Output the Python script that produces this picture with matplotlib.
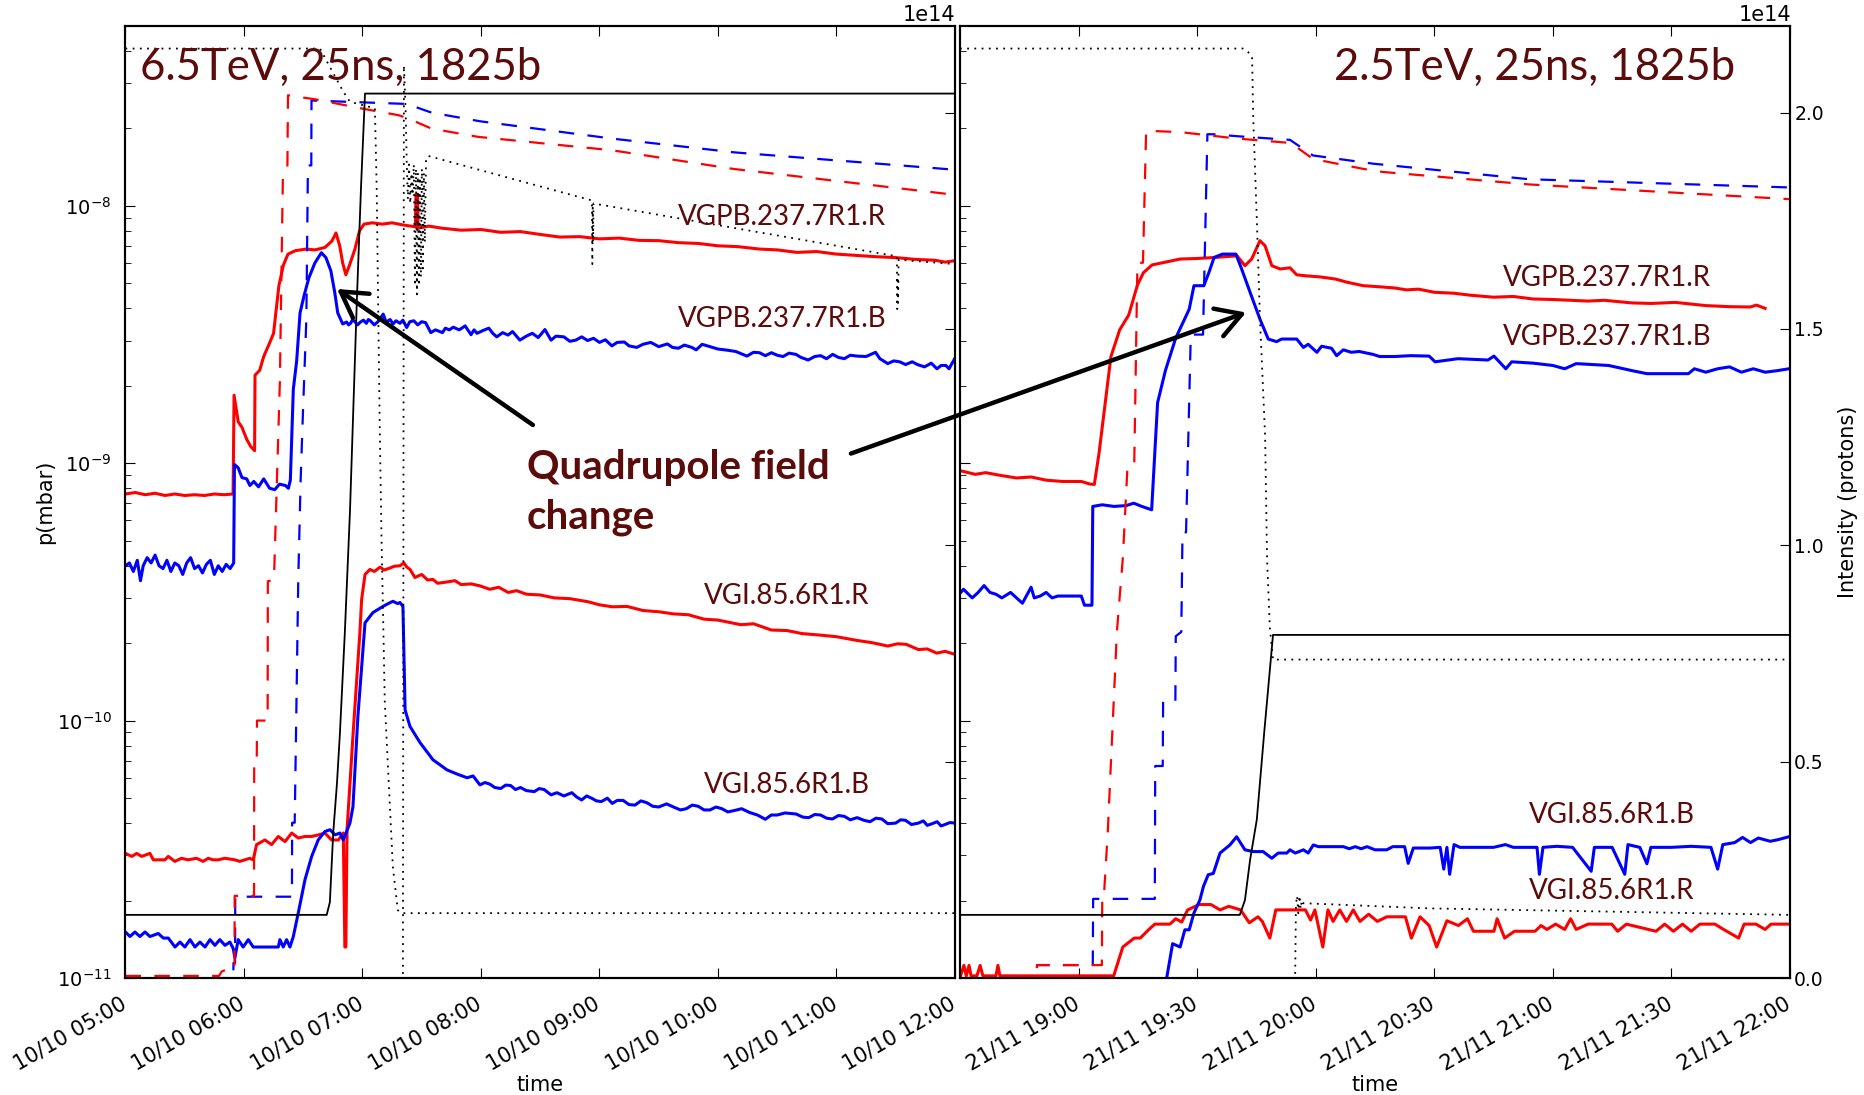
import numpy as np
import pandas as pd
import matplotlib
matplotlib.use("Agg")
import matplotlib.pyplot as plt
import matplotlib.dates as mdates
from matplotlib.patches import FancyArrowPatch
from matplotlib.ticker import FormatStrFormatter
from matplotlib.transforms import ScaledTranslation

# two fills: times are minutes after the start of each window
oct_start = pd.Timestamp("2015-10-10 05:00")
oct_end = pd.Timestamp("2015-10-10 12:00")
nov_start = pd.Timestamp("2015-11-21 18:30")
nov_end = pd.Timestamp("2015-11-21 22:00")

# ---------------- 6.5 TeV fill (10/10) ----------------
# pressures in mbar
vgpb_r_oct = [(0, 7.6e-10), (5, 7.7e-10), (10, 7.55e-10), (15, 7.65e-10), (20, 7.5e-10), (25, 7.6e-10),
              (30, 7.5e-10), (35, 7.55e-10), (40, 7.5e-10), (45, 7.6e-10), (50, 7.55e-10), (54.5, 7.6e-10),
              (55.0, 1.84e-9), (57.1, 1.45e-9), (59.0, 1.38e-9), (61.4, 1.24e-9), (63.5, 1.16e-9), (65.4, 1.12e-9),
              (65.6, 2.2e-9), (68, 2.3e-9), (70, 2.6e-9), (72.7, 2.9e-9), (75, 3.2e-9), (77.7, 4.9e-9),
              (80, 5.9e-9), (82.3, 6.5e-9), (86, 6.7e-9), (91.4, 6.8e-9), (96, 6.75e-9), (101, 6.9e-9),
              (104.5, 7.3e-9), (106.6, 7.85e-9), (108.5, 7.0e-9), (110, 6.0e-9), (111.6, 5.4e-9), (113.5, 5.9e-9),
              (116.2, 6.8e-9), (118.5, 8.0e-9), (120.8, 8.5e-9), (125, 8.6e-9), (130, 8.5e-9), (135, 8.6e-9),
              (140, 8.45e-9), (146.8, 8.3e-9), (147.1, 1.11e-8), (147.9, 1.11e-8), (148.2, 8.2e-9),
              (153.7, 8.35e-9), (160, 8.2e-9), (170, 8.05e-9), (180, 8.1e-9), (190, 7.9e-9), (200, 7.95e-9),
              (210, 7.75e-9), (220, 7.57e-9), (230, 7.6e-9), (240, 7.45e-9), (250, 7.5e-9), (260, 7.35e-9),
              (270, 7.33e-9), (280, 7.2e-9), (290, 7.15e-9), (300, 7.0e-9), (310, 6.95e-9), (321, 6.8e-9),
              (330, 6.75e-9), (340, 6.6e-9), (350, 6.65e-9), (360, 6.5e-9), (372, 6.41e-9), (380, 6.35e-9),
              (390, 6.3e-9), (400, 6.2e-9), (410, 6.15e-9), (415, 6.05e-9), (420, 6.13e-9)]

vgpb_b_oct = [(0, 4.0e-10), (2, 4.1e-10), (4, 3.8e-10), (6, 4.2e-10), (7.6, 3.5e-10), (9, 4.0e-10),
              (11, 4.3e-10), (13, 4.1e-10), (15, 4.4e-10), (17, 4.0e-10), (19, 3.9e-10), (21, 4.2e-10),
              (23, 3.8e-10), (25, 4.1e-10), (27, 4.0e-10), (29, 3.7e-10), (31, 4.1e-10), (33, 4.3e-10),
              (35, 3.9e-10), (37, 4.0e-10), (39, 3.75e-10), (41, 4.05e-10), (43, 4.2e-10), (45, 3.7e-10),
              (47, 4.0e-10), (49, 3.8e-10), (51, 4.05e-10), (53, 3.9e-10), (54.8, 4.1e-10),
              (55.2, 9.9e-10), (57.1, 9.6e-10), (59, 8.8e-10), (61.4, 8.7e-10), (63, 8.2e-10), (65, 8.5e-10),
              (67.4, 8.1e-10), (70, 8.7e-10), (73, 8.0e-10), (75.6, 7.9e-10), (78, 8.3e-10), (81, 8.2e-10),
              (82.5, 8.0e-10), (83.5, 8.6e-10), (85.0, 1.94e-9), (86.7, 2.5e-9), (88.4, 3.84e-9), (90.5, 4.5e-9),
              (92.9, 5.26e-9), (95.9, 6.0e-9), (99.2, 6.58e-9), (101.5, 6.3e-9), (104, 5.6e-9), (106, 4.6e-9),
              (107.5, 3.84e-9), (110, 3.48e-9), (112, 3.54e-9), (113, 3.45e-9), (114, 3.5e-9), (115, 3.62e-9),
              (116, 3.56e-9), (117.5, 3.45e-9), (119, 3.54e-9), (120.5, 3.6e-9), (122, 3.5e-9), (123, 3.62e-9),
              (124, 3.58e-9), (126, 3.45e-9), (128, 3.56e-9), (130.5, 3.8e-9), (132, 3.54e-9), (134, 3.62e-9),
              (135.5, 3.48e-9), (137, 3.58e-9), (139, 3.5e-9), (140.5, 3.6e-9), (142.4, 3.37e-9), (144, 3.55e-9),
              (146, 3.58e-9), (148, 3.45e-9), (150, 3.55e-9), (152, 3.52e-9), (154.6, 3.22e-9), (157, 3.3e-9),
              (160.5, 3.22e-9), (162, 3.35e-9), (164, 3.3e-9), (166, 3.38e-9), (169, 3.3e-9), (172, 3.42e-9),
              (175, 3.16e-9), (176.5, 3.3e-9), (178, 3.2e-9), (181, 3.28e-9), (184, 3.35e-9), (186, 3.2e-9),
              (188, 3.1e-9), (191, 3.22e-9), (193.7, 3.15e-9), (196, 3.25e-9), (199.7, 3.01e-9), (203, 3.12e-9),
              (206, 3.2e-9), (209, 3.08e-9), (212.4, 3.31e-9), (215.5, 3.01e-9), (218, 3.12e-9), (222, 3.1e-9),
              (225, 2.98e-9), (228, 3.01e-9), (231, 3.1e-9), (234, 3.0e-9), (237, 3.06e-9), (240, 2.95e-9),
              (243, 3.02e-9), (246.3, 2.86e-9), (249, 2.95e-9), (252.6, 2.96e-9), (255, 2.86e-9), (258.9, 2.82e-9),
              (262, 2.9e-9), (266, 2.95e-9), (270, 2.84e-9), (274.4, 2.91e-9), (277, 2.82e-9), (280, 2.8e-9),
              (283, 2.88e-9), (286.8, 2.82e-9), (289, 2.76e-9), (292, 2.9e-9), (296, 2.84e-9), (300, 2.78e-9),
              (305, 2.75e-9), (309, 2.72e-9), (314.7, 2.61e-9), (318, 2.7e-9), (321, 2.69e-9), (324, 2.62e-9),
              (327.1, 2.69e-9), (330, 2.63e-9), (333, 2.6e-9), (336, 2.68e-9), (339.5, 2.65e-9), (342, 2.58e-9),
              (345.7, 2.52e-9), (349, 2.6e-9), (352, 2.62e-9), (355, 2.55e-9), (358.1, 2.65e-9), (361, 2.58e-9),
              (364, 2.55e-9), (367, 2.63e-9), (370.4, 2.61e-9), (375, 2.6e-9), (379.8, 2.7e-9), (382, 2.55e-9),
              (386, 2.44e-9), (389, 2.5e-9), (392, 2.48e-9), (395, 2.42e-9), (398.4, 2.48e-9), (401, 2.42e-9),
              (404.6, 2.37e-9), (408, 2.45e-9), (410.9, 2.33e-9), (413, 2.4e-9), (415.4, 2.4e-9),
              (417, 2.33e-9), (420, 2.56e-9)]

vgi_r_oct = [(0, 3.05e-11), (3.2, 2.97e-11), (5.7, 3.05e-11), (8.2, 2.97e-11), (12.4, 3.05e-11), (14.1, 2.88e-11),
             (16.6, 2.88e-11), (20, 2.88e-11), (21.7, 2.97e-11), (25, 2.84e-11), (28.4, 2.92e-11), (31.7, 2.88e-11),
             (36, 2.92e-11), (39.3, 2.84e-11), (41.9, 2.92e-11), (44.4, 2.88e-11), (46.9, 2.88e-11), (50.3, 2.92e-11),
             (55.4, 2.88e-11), (57.9, 2.84e-11), (63, 2.92e-11), (64.7, 2.88e-11), (66.4, 3.3e-11), (70.6, 3.44e-11),
             (74, 3.3e-11), (77.4, 3.55e-11), (80.8, 3.39e-11), (84.2, 3.66e-11), (87.5, 3.5e-11), (90.9, 3.55e-11),
             (94.3, 3.55e-11), (97.7, 3.6e-11), (101, 3.66e-11), (104.4, 3.44e-11), (107.8, 3.44e-11), (110.3, 3.66e-11),
             (111.1, 1.32e-11), (111.6, 1.32e-11), (112.2, 3.77e-11), (115.3, 8.98e-11), (118.7, 2.2e-10),
             (119.6, 2.96e-10), (121.3, 3.7e-10), (123.8, 3.87e-10), (126, 3.8e-10), (128.9, 3.95e-10), (131, 3.85e-10),
             (134, 3.92e-10), (136, 3.98e-10), (139, 4.0e-10), (141, 4.1e-10), (142.5, 3.95e-10), (144.1, 3.87e-10),
             (146.6, 3.6e-10), (150, 3.7e-10), (153, 3.52e-10), (155.7, 3.54e-10), (158, 3.42e-10), (161.8, 3.45e-10),
             (166.8, 3.5e-10), (170, 3.38e-10), (175.2, 3.40e-10), (179.5, 3.34e-10), (184.5, 3.24e-10), (189, 3.3e-10),
             (193.8, 3.15e-10), (198, 3.2e-10), (203.1, 3.10e-10), (210, 3.08e-10), (217.1, 3.0e-10), (225, 2.98e-10),
             (234.1, 2.9e-10), (240, 2.82e-10), (246.5, 2.77e-10), (254, 2.78e-10), (262, 2.68e-10), (270, 2.65e-10),
             (277.5, 2.6e-10), (285, 2.58e-10), (293, 2.48e-10), (300, 2.46e-10), (311.6, 2.36e-10), (318, 2.38e-10),
             (327.1, 2.25e-10), (335, 2.24e-10), (342.6, 2.18e-10), (351.9, 2.15e-10), (360, 2.12e-10), (370.5, 2.05e-10),
             (378, 2.01e-10), (386, 1.95e-10), (391, 1.99e-10), (395.3, 1.98e-10), (401.5, 1.89e-10), (406, 1.9e-10),
             (410.8, 1.83e-10), (415, 1.86e-10), (420, 1.81e-10)]

vgi_b_oct = [(0, 1.51e-11), (2.3, 1.45e-11), (4.8, 1.51e-11), (7.3, 1.45e-11), (9.9, 1.51e-11), (12.4, 1.45e-11),
             (16.6, 1.49e-11), (19.2, 1.43e-11), (21.7, 1.43e-11), (25.1, 1.32e-11), (27.6, 1.38e-11), (30.1, 1.32e-11),
             (32.7, 1.41e-11), (35.2, 1.32e-11), (37.7, 1.38e-11), (40.3, 1.32e-11), (42.8, 1.41e-11), (45.3, 1.34e-11),
             (47.8, 1.41e-11), (50.4, 1.34e-11), (52.9, 1.38e-11), (54.6, 1.3e-11), (55.4, 1.2e-11), (57.1, 1.41e-11),
             (59.6, 1.32e-11), (62.2, 1.41e-11), (64.7, 1.32e-11), (67.2, 1.32e-11), (74, 1.32e-11), (77.4, 1.32e-11),
             (78.2, 1.41e-11), (79.9, 1.32e-11), (81.6, 1.41e-11), (83.3, 1.32e-11), (85, 1.45e-11), (87.5, 1.79e-11),
             (90.9, 2.41e-11), (94.3, 2.97e-11), (97.6, 3.44e-11), (101, 3.71e-11), (103.6, 3.77e-11), (106.1, 3.6e-11),
             (108.6, 3.66e-11), (110.3, 3.44e-11), (113.7, 4.01e-11), (115.2, 4.63e-11), (117.7, 1.04e-10),
             (121.3, 2.4e-10), (125.3, 2.63e-10), (130.4, 2.78e-10), (133, 2.85e-10), (135.4, 2.91e-10),
             (137.9, 2.85e-10), (139, 2.88e-10), (140.5, 2.78e-10), (141.6, 1.1e-10), (144.1, 9.49e-11),
             (149.2, 8.21e-11), (155.7, 7.05e-11), (162.8, 6.44e-11), (168, 6.2e-11), (173, 6.0e-11), (176, 6.1e-11),
             (179.5, 5.63e-11), (182, 5.75e-11), (184.5, 5.67e-11), (187, 5.5e-11), (190, 5.45e-11), (192.5, 5.62e-11),
             (195, 5.6e-11), (197.5, 5.4e-11), (200, 5.5e-11), (203, 5.35e-11), (207, 5.3e-11), (209.5, 5.45e-11),
             (212, 5.4e-11), (215.5, 5.15e-11), (218.5, 5.25e-11), (222, 5.1e-11), (226, 5.25e-11), (228.5, 5.05e-11),
             (231, 4.92e-11), (233.5, 5.1e-11), (236, 5.0e-11), (238.5, 4.88e-11), (241, 4.85e-11), (244, 5.0e-11),
             (246.5, 4.77e-11), (249, 4.9e-11), (252, 4.9e-11), (255, 4.72e-11), (258, 4.7e-11), (261, 4.88e-11),
             (264, 4.8e-11), (267, 4.65e-11), (270, 4.62e-11), (274, 4.75e-11), (277.5, 4.62e-11), (281, 4.5e-11),
             (284, 4.55e-11), (287, 4.7e-11), (290, 4.65e-11), (293, 4.5e-11), (296, 4.5e-11), (299, 4.62e-11),
             (302, 4.55e-11), (305, 4.42e-11), (308.5, 4.48e-11), (312, 4.55e-11), (316, 4.4e-11), (320, 4.3e-11),
             (324, 4.14e-11), (327, 4.3e-11), (330, 4.3e-11), (334, 4.38e-11), (339.5, 4.34e-11), (343, 4.22e-11),
             (346, 4.2e-11), (349, 4.32e-11), (352, 4.3e-11), (355, 4.18e-11), (358, 4.15e-11), (361, 4.28e-11),
             (364, 4.25e-11), (367, 4.12e-11), (370.5, 4.2e-11), (374, 4.1e-11), (377, 4.05e-11), (380, 4.18e-11),
             (383, 4.15e-11), (386, 3.98e-11), (390, 4.0e-11), (392.5, 4.12e-11), (395, 4.1e-11), (398, 3.95e-11),
             (401.5, 4.0e-11), (404, 4.08e-11), (406, 3.92e-11), (408.5, 3.98e-11), (411, 4.05e-11), (413, 3.9e-11),
             (415, 3.95e-11), (417.5, 4.02e-11), (420, 4.0e-11)]

# beam intensities, energy and the other machine signals (units of 1e14)
int_b1_oct = [(0, 0.005), (47.4, 0.005), (48.7, 0.015), (51.3, 0.02), (55.2, 0.02), (55.3, 0.19), (65.1, 0.19),
              (65.2, 0.51), (66.5, 0.51), (66.6, 0.595), (72.0, 0.595), (72.1, 0.917), (75.2, 0.92), (78.2, 1.38),
              (79.7, 1.85), (82.0, 1.875), (82.3, 2.04), (97, 2.03), (119, 2.01), (138.3, 1.994), (143.3, 1.986),
              (155, 1.963), (178.5, 1.944), (246.3, 1.913), (307.6, 1.87), (420, 1.81)]
int_b2_oct = [(0, 0.0), (54.6, 0.0), (54.7, 0.035), (55.5, 0.035), (55.6, 0.188), (84.3, 0.188), (84.4, 0.359),
              (85.7, 0.359), (87.5, 0.92), (88.7, 1.15), (89.9, 1.31), (91.6, 1.523), (92.4, 1.878), (94.1, 1.878),
              (94.2, 2.028), (142.4, 2.02), (155, 2.0), (179.5, 1.98), (246.3, 1.94), (308.6, 1.908), (420, 1.868)]
energy_oct = [(0, 0.146), (101.9, 0.146), (103.5, 0.175), (105.2, 0.335), (107.1, 0.45), (108.6, 0.566),
              (111.1, 0.8), (113.7, 1.08), (117.2, 1.57), (119.3, 1.83), (121.3, 2.044), (420, 2.044)]
dotted_a_oct = [(0, 2.148), (98.5, 2.148), (110.1, 2.05), (113.7, 2.025), (126.3, 2.01), (127.2, 1.83),
                (128.0, 1.54), (128.8, 1.26), (129.6, 1.03), (130.4, 0.85), (131.3, 0.64), (132.9, 0.49),
                (135.4, 0.257), (137.9, 0.157), (139.8, 0.15), (420, 0.15)]
dotted_b_oct = [(0, 0), (140.5, 0), (141.0, 2.109), (141.9, 2.0), (142.4, 1.89), (143.0, 1.80), (143.6, 1.88),
                (144.2, 1.79), (144.8, 1.86), (145.4, 1.81), (146.0, 1.88), (146.6, 1.60), (147.1, 1.87),
                (147.6, 1.58), (148.1, 1.86), (148.6, 1.60), (149.1, 1.85), (149.6, 1.62), (150.1, 1.87),
                (150.6, 1.64), (151.1, 1.86), (151.6, 1.70), (152.2, 1.89), (153.2, 1.90), (220, 1.817),
                (236.2, 1.797), (236.4, 1.65), (236.6, 1.78), (236.8, 1.70), (237.0, 1.79), (390.6, 1.668),
                (390.8, 1.546), (391.0, 1.62), (391.2, 1.56), (391.5, 1.66), (420, 1.65)]

# ---------------- 2.5 TeV fill (21/11) ----------------
vgpb_r_nov = [(0.2, 9.35e-10), (3.9, 9.06e-10), (6.5, 9.2e-10), (9.8, 9.0e-10), (14.3, 8.77e-10), (18, 8.85e-10),
              (21.8, 8.6e-10), (26, 8.5e-10), (30.7, 8.5e-10), (33, 8.3e-10), (34.0, 8.28e-10), (35.2, 1.1e-9),
              (38.2, 2.6e-9), (40.4, 3.3e-9), (42.7, 3.77e-9), (44.9, 4.93e-9), (46.4, 5.5e-9), (48.6, 5.9e-9),
              (52, 6.05e-9), (55.7, 6.22e-9), (60, 6.25e-9), (64.0, 6.3e-9), (70.1, 6.4e-9), (72.1, 5.86e-9),
              (73.8, 6.22e-9), (75.9, 7.33e-9), (77.2, 7.0e-9), (78.9, 5.86e-9), (81.0, 5.69e-9), (83.5, 5.75e-9),
              (85.2, 5.4e-9), (87.7, 5.35e-9), (91.1, 5.3e-9), (95, 5.2e-9), (97.8, 5.06e-9), (102, 4.9e-9),
              (106.3, 4.85e-9), (110, 4.8e-9), (113, 4.72e-9), (116, 4.75e-9), (120, 4.62e-9), (125, 4.58e-9),
              (129.1, 4.5e-9), (135, 4.42e-9), (140, 4.45e-9), (145, 4.35e-9), (150, 4.33e-9), (158.9, 4.27e-9),
              (163, 4.3e-9), (170, 4.2e-9), (175, 4.18e-9), (181, 4.22e-9), (188.7, 4.1e-9), (195, 4.06e-9),
              (200, 4.05e-9), (201.5, 4.12e-9), (203.7, 4.0e-9)]

vgpb_b_nov = [(0.2, 3.15e-10), (0.9, 3.24e-10), (3.1, 3.0e-10), (4.6, 3.15e-10), (6.1, 3.35e-10), (7.6, 3.15e-10),
              (9.1, 3.10e-10), (10.6, 3.0e-10), (12.8, 3.15e-10), (15.8, 2.86e-10), (18.0, 3.30e-10), (18.8, 3.0e-10),
              (20.3, 3.05e-10), (21.8, 3.15e-10), (23.3, 3.0e-10), (24.8, 3.05e-10), (30.7, 3.05e-10), (31.5, 2.81e-10),
              (33.4, 2.81e-10), (33.6, 6.8e-10), (36, 6.9e-10), (39, 6.8e-10), (42, 6.85e-10), (44, 7.0e-10),
              (46, 6.8e-10), (48.5, 6.6e-10), (50, 1.72e-9), (52, 2.3e-9), (54.6, 3.07e-9), (58, 3.97e-9),
              (59.2, 4.9e-9), (61.7, 4.9e-9), (63, 5.52e-9), (64.3, 6.31e-9), (66.4, 6.5e-9), (69.8, 6.5e-9),
              (71.1, 5.78e-9), (73.4, 4.62e-9), (75.9, 3.63e-9), (78, 3.04e-9), (80.1, 2.97e-9), (81.4, 3.04e-9),
              (85.2, 3.04e-9), (86.9, 2.82e-9), (88.1, 2.9e-9), (90.3, 2.7e-9), (91.5, 2.85e-9), (94, 2.8e-9),
              (95.3, 2.62e-9), (97, 2.76e-9), (99, 2.7e-9), (101, 2.72e-9), (104.5, 2.65e-9), (106.2, 2.6e-9),
              (110, 2.6e-9), (114, 2.62e-9), (118.7, 2.61e-9), (120.2, 2.48e-9), (126, 2.55e-9), (133.6, 2.52e-9),
              (135.1, 2.61e-9), (138.1, 2.33e-9), (139.6, 2.48e-9), (145, 2.45e-9), (150, 2.40e-9), (153, 2.33e-9),
              (155.9, 2.44e-9), (160, 2.42e-9), (164.1, 2.40e-9), (167.9, 2.33e-9), (170.1, 2.29e-9), (173.8, 2.23e-9),
              (180, 2.23e-9), (184.3, 2.23e-9), (185.8, 2.33e-9), (188.7, 2.26e-9), (191.7, 2.33e-9), (194.7, 2.37e-9),
              (197.7, 2.26e-9), (200.7, 2.33e-9), (203.7, 2.26e-9), (206.7, 2.29e-9), (209.7, 2.33e-9)]

vgi_r_nov = [(0.15, 1.02e-11), (1.0, 1.12e-11), (1.6, 1.02e-11), (2.3, 1.12e-11), (2.8, 1.02e-11), (4.3, 1.02e-11),
             (5.1, 1.12e-11), (5.8, 1.02e-11), (9.1, 1.02e-11), (9.6, 1.12e-11), (10.1, 1.02e-11), (38.9, 1.02e-11),
             (41.2, 1.32e-11), (44.1, 1.43e-11), (45.6, 1.43e-11), (47.9, 1.55e-11), (49.3, 1.62e-11), (53.1, 1.62e-11),
             (54.6, 1.7e-11), (56.1, 1.65e-11), (57.6, 1.84e-11), (60.5, 1.93e-11), (63.5, 1.93e-11), (65.8, 1.84e-11),
             (68, 1.9e-11), (71, 1.84e-11), (73.2, 1.64e-11), (75.4, 1.73e-11), (76.5, 1.66e-11), (78.4, 1.43e-11),
             (79.9, 1.84e-11), (87.4, 1.84e-11), (88.7, 1.68e-11), (89.8, 1.84e-11), (91.8, 1.32e-11), (93.1, 1.84e-11),
             (94.4, 1.66e-11), (96.1, 1.84e-11), (97.8, 1.66e-11), (99.5, 1.84e-11), (101.2, 1.66e-11),
             (103.4, 1.77e-11), (105.6, 1.66e-11), (108, 1.73e-11), (112.7, 1.73e-11), (114.2, 1.43e-11),
             (116.4, 1.73e-11), (118.7, 1.6e-11), (120.6, 1.32e-11), (123.2, 1.67e-11), (126.1, 1.60e-11),
             (128.4, 1.70e-11), (129.9, 1.52e-11), (135.1, 1.52e-11), (135.9, 1.70e-11), (137.8, 1.43e-11),
             (140.3, 1.52e-11), (145.5, 1.52e-11), (147, 1.60e-11), (148.5, 1.545e-11), (150.7, 1.62e-11),
             (153, 1.545e-11), (154.5, 1.70e-11), (155.9, 1.545e-11), (158.9, 1.62e-11), (164.9, 1.62e-11),
             (166.4, 1.52e-11), (168.6, 1.62e-11), (176.1, 1.52e-11), (178.3, 1.62e-11), (180.5, 1.52e-11),
             (182.8, 1.62e-11), (185, 1.52e-11), (187.2, 1.62e-11), (191, 1.62e-11), (193.2, 1.545e-11),
             (197, 1.43e-11), (198.4, 1.62e-11), (201.4, 1.62e-11), (203.7, 1.545e-11), (205.2, 1.62e-11),
             (209.7, 1.62e-11)]

vgi_b_nov = [(52.3, 1.0e-11), (53.8, 1.36e-11), (55.7, 1.32e-11), (56.9, 1.54e-11), (58.0, 1.54e-11),
             (59.2, 1.79e-11), (60.7, 2.01e-11), (61.6, 2.27e-11), (62.8, 2.52e-11), (64.1, 2.55e-11),
             (65.8, 3.06e-11), (68.3, 3.29e-11), (70.0, 3.54e-11), (72.1, 3.15e-11), (74.2, 3.1e-11),
             (76.7, 3.1e-11), (78.9, 2.92e-11), (80.5, 3.06e-11), (82.7, 3.06e-11), (83.5, 3.15e-11),
             (84.8, 3.06e-11), (85.8, 3.1e-11), (86.9, 3.15e-11), (88.1, 3.06e-11), (89.4, 3.29e-11),
             (90.7, 3.24e-11), (97, 3.24e-11), (98.5, 3.18e-11), (100, 3.24e-11), (101.5, 3.18e-11),
             (103, 3.24e-11), (105, 3.15e-11), (108, 3.15e-11), (109.5, 3.24e-11), (112.5, 3.24e-11),
             (113.4, 2.79e-11), (114.7, 3.2e-11), (118.9, 3.2e-11), (121.5, 3.22e-11), (122.4, 2.65e-11),
             (123.2, 3.22e-11), (123.9, 2.53e-11), (125, 3.3e-11), (126.5, 3.22e-11), (130, 3.22e-11),
             (135, 3.22e-11), (138, 3.3e-11), (140, 3.22e-11), (146, 3.22e-11), (146.6, 2.53e-11),
             (147.5, 3.22e-11), (151, 3.25e-11), (155, 3.22e-11), (159.7, 2.6e-11), (160.5, 3.22e-11),
             (165, 3.22e-11), (168.2, 2.53e-11), (169, 3.3e-11), (172, 3.22e-11), (173.8, 2.78e-11),
             (174.8, 3.22e-11), (180, 3.22e-11), (185, 3.25e-11), (190, 3.22e-11), (191.7, 2.65e-11),
             (193, 3.3e-11), (196, 3.36e-11), (198, 3.52e-11), (200, 3.36e-11), (202, 3.5e-11),
             (205, 3.4e-11), (207, 3.45e-11), (209.7, 3.54e-11)]

int_b1_nov = [(0, 0.0), (19.4, 0.0), (19.5, 0.03), (35.9, 0.03), (36.0, 0.186), (36.4, 0.186), (37.4, 0.338),
              (39.7, 0.80), (41.2, 0.97), (42.4, 1.185), (44.1, 1.19), (44.9, 1.653), (46.3, 1.653), (47.1, 1.958),
              (55.7, 1.955), (70.1, 1.94), (83.5, 1.93), (85.2, 1.92), (89.3, 1.893), (102, 1.87), (106.8, 1.863),
              (144, 1.834), (210, 1.80)]
int_b2_nov = [(0, 0.0), (19.4, 0.0), (19.5, 0.03), (33.6, 0.03), (33.7, 0.183), (49.3, 0.183), (49.4, 0.49),
              (51.3, 0.49), (51.4, 0.64), (54.5, 0.64), (54.6, 0.79), (56.0, 0.80), (56.3, 1.03), (57.2, 1.03),
              (58.4, 1.487), (61.5, 1.487), (62.6, 1.95), (64.0, 1.95), (70.8, 1.945), (83.5, 1.937), (89.3, 1.901),
              (104.5, 1.882), (144, 1.846), (210, 1.827)]
energy_nov = [(0, 0.146), (70.8, 0.146), (72.1, 0.18), (73.4, 0.273), (75.1, 0.366), (77.0, 0.57),
              (79.2, 0.793), (210, 0.793)]
dotted_a_nov = [(0, 2.148), (71.6, 2.148), (72.6, 2.143), (73.9, 2.13), (74.2, 1.986), (75.1, 1.755),
                (75.9, 1.523), (77.2, 1.253), (77.7, 0.968), (78.4, 0.809), (79.2, 0.736), (210, 0.736)]
dotted_b_nov = [(0, 0), (84.8, 0), (85.0, 0.17), (85.3, 0.19), (85.6, 0.15), (85.9, 0.19), (86.2, 0.16),
                (86.5, 0.18), (86.8, 0.173), (118.9, 0.161), (210, 0.146)]

gauge_labels_oct = ["VGPB.237.7R1.R", "VGPB.237.7R1.B", "VGI.85.6R1.R", "VGI.85.6R1.B"]
gauge_labels_nov = ["VGPB.237.7R1.R", "VGPB.237.7R1.B", "VGI.85.6R1.B", "VGI.85.6R1.R"]
titles = ["6.5TeV, 25ns, 1825b", "2.5TeV, 25ns, 1825b"]

maroon = "#5c0b0b"
label_font = "Lato"


def series(pairs, start):
    t, v = zip(*pairs)
    return start + pd.to_timedelta(np.array(t), unit="min"), np.array(v)


fig = plt.figure(figsize=(18.64, 10.95), dpi=100)
ax1 = fig.add_axes([0.0673, 0.1068, 0.4450, 0.8694])
ax2 = fig.add_axes([0.5150, 0.1068, 0.4453, 0.8694], sharey=ax1)
ax1t = ax1.twinx()
ax2t = ax2.twinx()

press_lw = 2.2
dash = (0, (7, 6))
dots = (0, (1, 3))

for ax, axt, start, data in [
    (ax1, ax1t, oct_start, (vgpb_r_oct, vgpb_b_oct, vgi_r_oct, vgi_b_oct,
                            int_b1_oct, int_b2_oct, energy_oct, dotted_a_oct, dotted_b_oct)),
    (ax2, ax2t, nov_start, (vgpb_r_nov, vgpb_b_nov, vgi_r_nov, vgi_b_nov,
                            int_b1_nov, int_b2_nov, energy_nov, dotted_a_nov, dotted_b_nov)),
]:
    vr, vb, gr, gb, i1, i2, en, da, db = data
    for pairs, col in [(vr, "r"), (vb, "b"), (gr, "r"), (gb, "b")]:
        t, p = series(pairs, start)
        ax.plot(t, p, color=col, lw=press_lw)
    t, v = series(i2, start)
    axt.plot(t, v, color="b", lw=1.6, linestyle=dash)
    t, v = series(i1, start)
    axt.plot(t, v, color="r", lw=1.6, linestyle=dash)
    t, v = series(en, start)
    axt.plot(t, v, color="k", lw=1.3)
    t, v = series(da, start)
    axt.plot(t, v, color="k", lw=1.3, linestyle=dots)
    t, v = series(db, start)
    axt.plot(t, v, color="k", lw=1.3, linestyle=dots)

ax1.set_yscale("log")
ax1.set_ylim(1e-11, 5e-8)
ax1.set_xlim(oct_start, oct_end)
ax2.set_xlim(nov_start, nov_end)
for axt in (ax1t, ax2t):
    axt.set_ylim(0, 2.2)
    axt.set_yticks([0, 0.5, 1.0, 1.5, 2.0])
    axt.yaxis.set_major_formatter(FormatStrFormatter("%.1f"))
    axt.tick_params(direction="in", length=7, labelsize=13.5, pad=3)
ax1t.tick_params(labelright=False)

ax1.set_xticks(pd.date_range(oct_start, oct_end, freq="1h"))
ax2.set_xticks(pd.date_range("2015-11-21 19:00", nov_end, freq="30min"))
nudge = ScaledTranslation(4 / 100, 0, fig.dpi_scale_trans)
for ax in (ax1, ax2):
    ax.xaxis.set_major_formatter(mdates.DateFormatter("%d/%m %H:%M"))
    ax.tick_params(which="both", direction="in", top=True, labelsize=15)
    ax.tick_params(which="major", length=7)
    ax.tick_params(which="minor", length=4)
    ax.tick_params(axis="x", pad=11)
    for lab in ax.get_xticklabels():
        lab.set_rotation(30)
        lab.set_ha("right")
        lab.set_transform(lab.get_transform() + nudge)
    ax.set_xlabel("time", fontsize=15)
    ax.xaxis.set_label_coords(0.5, -0.102)
ax1.tick_params(axis="y", pad=10, labelsize=14)
ax2.tick_params(axis="y", labelleft=False)

for ax in (ax1, ax2, ax1t, ax2t):
    for s in ax.spines.values():
        s.set_linewidth(1.5)

ax1.set_ylabel("p(mbar)", fontsize=15)
ax1.yaxis.set_label_coords(-0.085, 0.5)
ax2t.set_ylabel("Intensity (protons)", fontsize=15)
ax2t.yaxis.set_label_coords(1.058, 0.5)

# exponent of the intensity axes
fig.text(955 / 1864, 1 - 21 / 1095, "1e14", fontsize=15, ha="right", va="baseline")
fig.text(1791 / 1864, 1 - 21 / 1095, "1e14", fontsize=15, ha="right", va="baseline")

# fill descriptions and gauge names
fig.text(0.0751, 0.9269, titles[0], fontsize=31.5, family=label_font, color=maroon, va="baseline")
fig.text(0.7155, 0.9269, titles[1], fontsize=31.5, family=label_font, color=maroon, va="baseline")

for name, (x, y) in zip(gauge_labels_oct, [(0.3637, 0.7945), (0.3637, 0.7014), (0.3777, 0.4484), (0.3777, 0.2758)]):
    fig.text(x, y, name, fontsize=20, family=label_font, color=maroon, va="baseline")
for name, (x, y) in zip(gauge_labels_nov, [(0.8063, 0.7388), (0.8063, 0.6849), (0.8203, 0.2484), (0.8203, 0.1790)]):
    fig.text(x, y, name, fontsize=20, family=label_font, color=maroon, va="baseline")

fig.text(0.2827, 0.5626, "Quadrupole field", fontsize=29, family=label_font, weight="bold",
         color=maroon, va="baseline")
fig.text(0.2827, 0.5173, "change", fontsize=29, family=label_font, weight="bold",
         color=maroon, va="baseline")

for tail, head in [((0.2859, 0.6119), (0.1808, 0.7361)), ((0.4565, 0.5858), (0.6685, 0.7146))]:
    fig.add_artist(FancyArrowPatch(tail, head, transform=fig.transFigure,
                                   arrowstyle="->,head_length=0.6,head_width=0.35",
                                   mutation_scale=30, lw=3.2, color="k",
                                   shrinkA=0, shrinkB=0))

fig.savefig("out.png", dpi=100, facecolor="white")
